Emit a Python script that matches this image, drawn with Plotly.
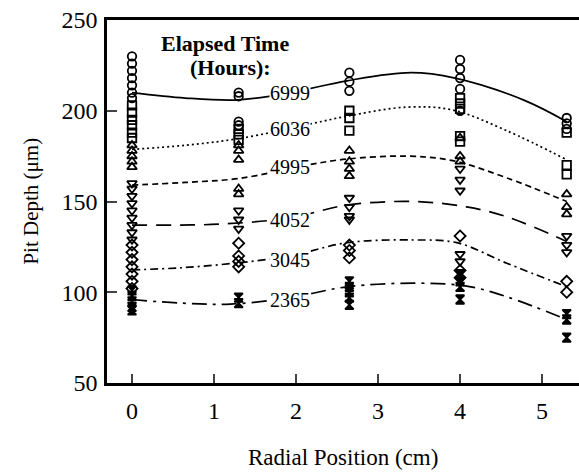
import plotly.graph_objects as go

# ---- data ----
radial = [0.0, 1.3, 2.65, 4.0, 5.3]

times = ["6999", "6036", "4995", "4052", "3045", "2365"]

# measured pit depths (um) per radial position, for each elapsed time
pits_6999 = [[230, 226, 222, 218, 214, 210, 207], [210, 208, 194, 192], [221, 216, 211], [228, 223, 218, 212, 200], [196, 193, 190]]
pits_6036 = [[203, 199, 195, 192, 188, 185], [190, 187, 184], [200, 196, 189], [207, 204, 201, 186, 183], [188, 170, 165]]
pits_4995 = [[181, 178, 175, 172, 169], [181, 178, 173, 157, 154], [178, 172, 168, 164], [185, 175, 172], [154, 147, 143]]
pits_4052 = [[160, 157, 153, 149, 145, 141, 137, 133, 129], [145, 140, 135], [152, 147, 142, 140], [168, 162, 156, 121, 117], [131, 126, 122]]
pits_3045 = [[126, 122, 118, 114, 110, 106, 102], [127, 120, 117, 114], [126, 123, 119], [131, 112, 108], [106, 100]]
pits_2365 = [[101, 98, 95, 92, 90], [97, 94], [106, 103, 100, 97, 93], [110, 106, 103, 96], [88, 85, 75]]

# fitted curves
fit_x_6999 = [0, 0.65, 1.3, 1.93, 2.62, 3.4, 3.94, 4.77, 5.3]
fit_y_6999 = [210, 207, 206, 210, 216.5, 221, 218, 206, 194]
fit_x_6036 = [0, 0.65, 1.32, 2.2, 2.62, 3.35, 3.91, 4.57, 5.3]
fit_y_6036 = [178.7, 181, 184.8, 193, 197, 202, 200.4, 189, 173]
fit_x_4995 = [0, 0.65, 1.32, 2.2, 2.62, 3.35, 3.91, 4.57, 5.3]
fit_y_4995 = [159, 160.5, 162.8, 170.6, 173.4, 175, 172.5, 163, 150]
fit_x_4052 = [0, 0.55, 1.1, 1.93, 2.62, 3.43, 4.08, 4.57, 5.3]
fit_y_4052 = [137, 137, 137.6, 141, 148, 150, 147, 141.6, 128]
fit_x_3045 = [0, 0.6, 1.25, 1.93, 2.62, 3.43, 3.96, 4.57, 5.3]
fit_y_3045 = [112.3, 113.5, 116, 120, 127.3, 128.8, 127.3, 116, 103]
fit_x_2365 = [0, 0.6, 1.2, 1.93, 2.62, 3.43, 4.08, 4.57, 5.3]
fit_y_2365 = [96, 94, 93.5, 97, 103, 105, 103.4, 97.5, 85]

label_x = 1.93
label_y = [210, 190, 169, 140, 118, 96]

x_ticks = [0, 1, 2, 3, 4, 5]
y_ticks = [50, 100, 150, 200, 250]

# ---- styles ----
pits = [pits_6999, pits_6036, pits_4995, pits_4052, pits_3045, pits_2365]
fits = [(fit_x_6999, fit_y_6999), (fit_x_6036, fit_y_6036), (fit_x_4995, fit_y_4995),
        (fit_x_4052, fit_y_4052), (fit_x_3045, fit_y_3045), (fit_x_2365, fit_y_2365)]
symbols = ["circle-open", "square-open", "triangle-up-open", "triangle-down-open", "diamond-open", "hourglass"]
dashes = ["solid", "2px,3px", "6px,4px", "15px,9px", "8px,4px,2px,4px", "15px,6px,3px,6px"]

fig = go.Figure()
for t, p, (fx, fy), sym, dsh in zip(times, pits, fits, symbols, dashes):
    fig.add_trace(go.Scatter(x=fx, y=fy, mode="lines", line=dict(color="black", width=1.7, dash=dsh, shape="spline", smoothing=1.0),
                             hoverinfo="skip", showlegend=False))
    xs, ys = [], []
    for r, vals in zip(radial, p):
        xs += [r] * len(vals)
        ys += vals
    fig.add_trace(go.Scatter(x=xs, y=ys, mode="markers", name=t, showlegend=False,
                             marker=dict(symbol=sym, size=8.5, color="black", line=dict(color="black", width=1.8))))

font_fam = "Liberation Serif"
for t, ly in zip(times, label_y):
    fig.add_annotation(x=label_x, y=ly, text=t, showarrow=False, bgcolor="white", borderpad=0,
                       font=dict(family=font_fam, size=20, color="black"))

fig.add_annotation(x=0.33, y=237.3, xref="x", yref="y", text="<b>Elapsed Time</b>", showarrow=False, xanchor="left",
                   font=dict(family=font_fam, size=22, color="black"))
fig.add_annotation(x=1.195, y=223.6, xref="x", yref="y", text="<b>(Hours):</b>", showarrow=False, xanchor="center",
                   font=dict(family=font_fam, size=22, color="black"))

# axis titles placed as paper annotations
fig.add_annotation(x=0.5, y=-0.204, xref="paper", yref="paper", text="Radial Position (cm)", showarrow=False,
                   xanchor="center", yanchor="middle", font=dict(family=font_fam, size=23, color="black"))
fig.add_annotation(x=-0.163, y=0.5, xref="paper", yref="paper", text="Pit Depth (μm)", showarrow=False, textangle=-90,
                   xanchor="center", yanchor="middle", font=dict(family=font_fam, size=21, color="black"))

fig.update_layout(
    width=579, height=472,
    margin=dict(l=107, r=0, t=20, b=89),
    plot_bgcolor="white", paper_bgcolor="white",
    font=dict(family=font_fam, size=24, color="black"),
)
fig.update_xaxes(range=[-0.305, 5.45], tickvals=x_ticks, ticks="inside", ticklen=9, tickwidth=2,
                 tickfont=dict(family=font_fam, size=24), ticklabelstandoff=4,
                 showline=True, linewidth=2.5, linecolor="black", mirror=True, showgrid=False, zeroline=False)
fig.update_yaxes(range=[50, 250], tickvals=y_ticks, ticks="inside", ticklen=10, tickwidth=2,
                 tickfont=dict(family=font_fam, size=24), ticklabelstandoff=2,
                 showline=True, linewidth=2.5, linecolor="black", showgrid=False, zeroline=False)

fig.write_html("out.html")
